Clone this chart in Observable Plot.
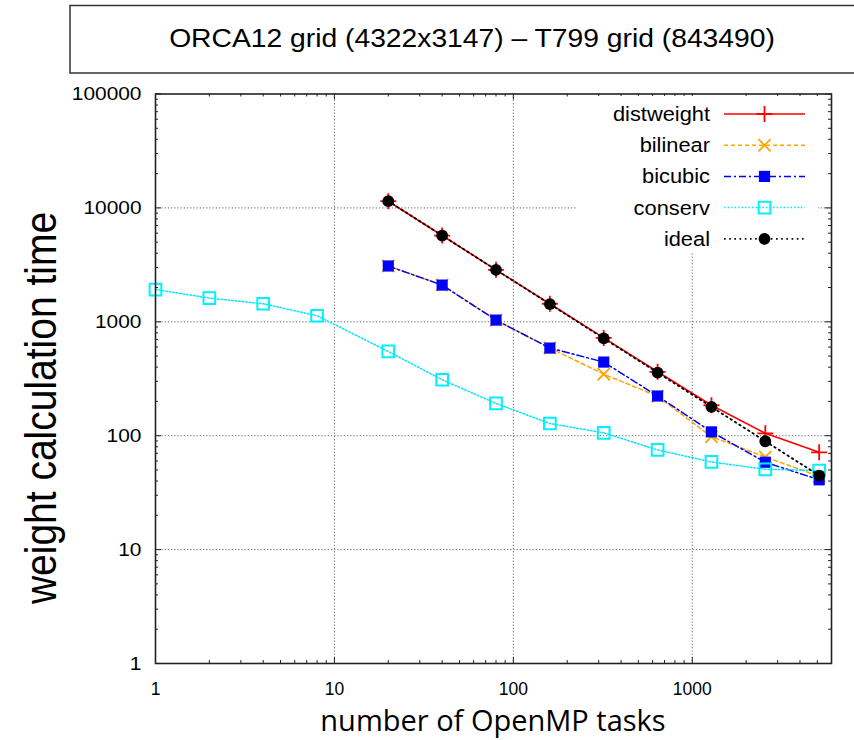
<!DOCTYPE html>
<html>
<head>
<meta charset="utf-8">
<script src="https://cdn.jsdelivr.net/npm/d3@7"></script>
<script src="https://cdn.jsdelivr.net/npm/@observablehq/plot@0.6"></script>
<style>
html, body { margin: 0; padding: 0; background: #fff; overflow: hidden; width: 854px; height: 740px; }
#wrap { position: relative; width: 854px; height: 740px; }
#wrap > svg { position: absolute; left: 0; top: 0; }
#overlay { pointer-events: none; }
</style>
</head>
<body>
<div id="wrap"></div>
<script>
// ---- data ----
const tasks = [1, 2, 4, 8, 20, 40, 80, 160, 320, 640, 1280, 2560, 5120];
const parallelTasks = [20, 40, 80, 160, 320, 640, 1280, 2560, 5120];
const distweight = [11450, 5720, 2860, 1440, 722, 364, 185, 105, 71.5];
const bilinear   = [3090, 2100, 1035, 588, 347, 222, 98, 65, 44];
const bicubic    = [3090, 2100, 1035, 588, 443, 223, 108, 58.5, 41];
const conserv    = [1920, 1615, 1440, 1130, 549, 310, 192, 128, 106, 75, 58.8, 50.7, 49.5];
const ideal      = [11450, 5720, 2860, 1430, 715, 358, 179, 89.4, 44.7];
const seriesNames = ["distweight", "bilinear", "bicubic", "conserv", "ideal"];
const xTickValues = [1, 10, 100, 1000];
const yTickValues = [1, 10, 100, 1000, 10000, 100000];
const gridXValues = [10, 100, 1000];
const gridYValues = [10, 100, 1000, 10000];
const minorMultipliers = [2, 3, 4, 5, 6, 7, 8, 9];
const titleText = "ORCA12 grid (4322x3147) \u2013 T799 grid (843490)";
const xLabel = "number of OpenMP tasks";
const yLabel = "weight calculation time";

// ---- build tables ----
const seriesX = {distweight: parallelTasks, bilinear: parallelTasks, bicubic: parallelTasks, conserv: tasks, ideal: parallelTasks};
const seriesY = {distweight, bilinear, bicubic, conserv, ideal};
const rows = seriesNames.flatMap(s => seriesY[s].map((v, i) => ({series: s, tasks: seriesX[s][i], time: v})));

const styles = {
  distweight: {stroke: "#ff0000", dash: null,        symbol: "plus",   r: 5.2, fill: "none",    mstroke: "#ff0000", msw: 1.8, lw: 1.6},
  bilinear:   {stroke: "#ffa500", dash: "4,3",       symbol: "times",  r: 5.6, fill: "none",    mstroke: "#ffa500", msw: 1.8, lw: 1.5},
  bicubic:    {stroke: "#0000ff", dash: "7,3,2,3",   symbol: "square", r: 6.3, fill: "#0000ff", mstroke: "none",    msw: 0,   lw: 1.5},
  conserv:    {stroke: "#00e5ff", dash: "1.5,2",     symbol: "square", r: 6.6, fill: "none",    mstroke: "#00f0ff", msw: 2,   lw: 1.5},
  ideal:      {stroke: "#000000", dash: "1.6,3.6",   symbol: "circle", r: 5.9, fill: "#000000", mstroke: "none",    msw: 0,   lw: 1.8}
};

const minorX = [1, 10, 100, 1000].flatMap(d => minorMultipliers.map(m => m * d)).filter(v => v <= 6000);
const minorY = [1, 10, 100, 1000, 10000].flatMap(d => minorMultipliers.map(m => m * d));

const W = 854, H = 740;
const mL = 155, mR = 23, mT = 93.5, mB = 77;
const fw = W - mL - mR, fh = H - mT - mB;

const marks = [
  Plot.gridX(gridXValues, {stroke: "#666", strokeOpacity: 1, strokeWidth: 1, strokeDasharray: "1.2,2"}),
  Plot.gridY(gridYValues, {stroke: "#666", strokeOpacity: 1, strokeWidth: 1, strokeDasharray: "1.2,2"}),
];
for (const s of seriesNames) {
  const st = styles[s];
  const data = rows.filter(d => d.series === s);
  marks.push(Plot.line(data, {x: "tasks", y: "time", stroke: st.stroke, strokeWidth: st.lw, strokeDasharray: st.dash}));
  marks.push(Plot.dot(data, {x: "tasks", y: "time", symbol: st.symbol, r: st.r, fill: st.fill, stroke: st.mstroke, strokeWidth: st.msw}));
}
// inward ticks (gnuplot style, mirrored)
marks.push(
  Plot.tickX(xTickValues, {x: d => d, insetTop: fh - 6, stroke: "#222"}),
  Plot.tickX(xTickValues, {x: d => d, insetBottom: fh - 6, stroke: "#222"}),
  Plot.tickX(minorX, {x: d => d, insetTop: fh - 3, stroke: "#222"}),
  Plot.tickX(minorX, {x: d => d, insetBottom: fh - 3, stroke: "#222"}),
  Plot.tickY(yTickValues, {y: d => d, insetRight: fw - 6, stroke: "#222"}),
  Plot.tickY(yTickValues, {y: d => d, insetLeft: fw - 6, stroke: "#222"}),
  Plot.tickY(minorY, {y: d => d, insetRight: fw - 3, stroke: "#222"}),
  Plot.tickY(minorY, {y: d => d, insetLeft: fw - 3, stroke: "#222"}),
  Plot.axisX({ticks: xTickValues, tickSize: 0, tickPadding: 19, tickFormat: d => String(d), fontSize: 17.5, label: null}),
  Plot.axisY({ticks: yTickValues, tickSize: 0, tickPadding: 14, tickFormat: d => String(d), fontSize: 19, label: null}),
  Plot.frame({stroke: "#222", strokeWidth: 1.6})
);

const chart = Plot.plot({
  width: W, height: H,
  marginLeft: mL, marginRight: mR, marginTop: mT, marginBottom: mB,
  style: {fontFamily: "'Liberation Sans', Arial, sans-serif", color: "#000", background: "transparent"},
  x: {type: "log", domain: [1, 6000]},
  y: {type: "log", domain: [1, 100000]},
  marks
});
document.getElementById("wrap").appendChild(chart);

// stretch y tick labels horizontally like the reference
d3.select(chart).selectAll('g[aria-label="y-axis tick label"] text').each(function() {
  const t = this.getAttribute("transform") || "";
  this.setAttribute("transform", t + " scale(1.1,1)");
});

// ---- overlay: title box, axis labels, legend ----
const ov = d3.select("#wrap").append("svg").attr("id", "overlay").attr("width", W).attr("height", H);

ov.append("rect").attr("x", 70).attr("y", 5.5).attr("width", 820).attr("height", 67.5)
  .attr("fill", "#fff").attr("stroke", "#333").attr("stroke-width", 1.5);
ov.append("text").attr("transform", "translate(472,46.5) scale(1.1,1)")
  .attr("text-anchor", "middle").attr("font-family", "'Liberation Sans', Arial, sans-serif")
  .attr("font-size", 25.7).attr("fill", "#000").text(titleText);

ov.append("text").attr("transform", "translate(56,408) scale(1.12,1) rotate(-90)")
  .attr("text-anchor", "middle").attr("font-family", "'Liberation Sans', Arial, sans-serif")
  .attr("font-size", 39).attr("fill", "#000").text(yLabel);

ov.append("text").attr("x", 493).attr("y", 731)
  .attr("text-anchor", "middle").attr("font-family", "'Open Sans', sans-serif")
  .attr("font-size", 29).attr("fill", "#000").text(xLabel);

// legend box (white, covers grid)
ov.append("rect").attr("x", 577).attr("y", 96).attr("width", 241).attr("height", 156).attr("fill", "#fff");
const symbolTypes = {plus: d3.symbolPlus, times: d3.symbolTimes, square: d3.symbolSquare, circle: d3.symbolCircle};
seriesNames.forEach((s, i) => {
  const st = styles[s];
  const cy = 114 + i * 31.2;
  ov.append("text").attr("transform", `translate(710,${cy + 7}) scale(1.12,1)`)
    .attr("text-anchor", "end").attr("font-family", "'Liberation Sans', Arial, sans-serif")
    .attr("font-size", 19.5).attr("fill", "#000").text(s);
  ov.append("line").attr("x1", 724).attr("x2", 805).attr("y1", cy).attr("y2", cy)
    .attr("stroke", st.stroke).attr("stroke-width", st.lw).attr("stroke-dasharray", st.dash);
  ov.append("path").attr("transform", `translate(764.5,${cy})`)
    .attr("d", d3.symbol().type(symbolTypes[st.symbol]).size(Math.PI * st.r * st.r)())
    .attr("fill", st.fill).attr("stroke", st.mstroke).attr("stroke-width", st.msw);
});
</script>
</body>
</html>
